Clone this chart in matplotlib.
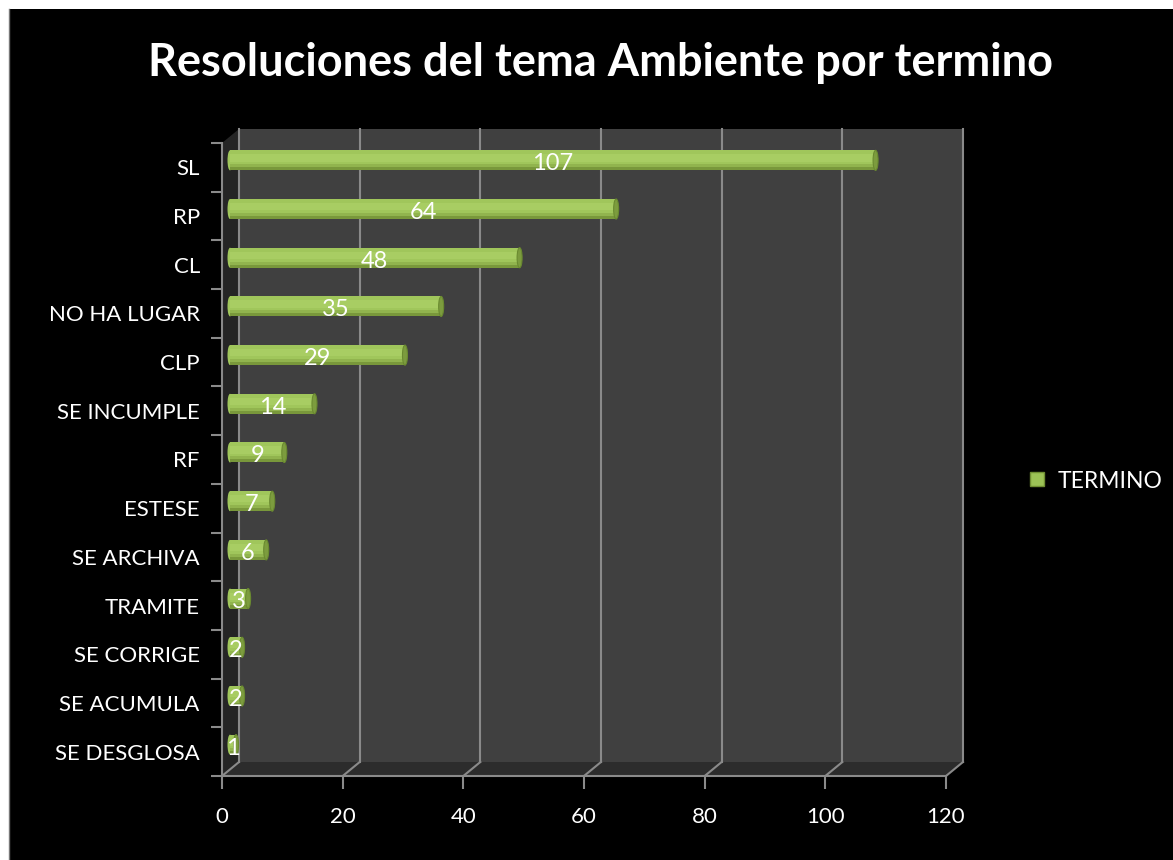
import matplotlib
matplotlib.use("Agg")
import matplotlib.pyplot as plt
from matplotlib.patches import Rectangle, Polygon, Ellipse
from matplotlib.lines import Line2D

plt.rcParams['font.family'] = ['Lato', 'DejaVu Sans']

# data (bottom to top)
categorias = ['SE DESGLOSA', 'SE ACUMULA', 'SE CORRIGE', 'TRAMITE', 'SE ARCHIVA',
              'ESTESE', 'RF', 'SE INCUMPLE', 'CLP', 'NO HA LUGAR', 'CL', 'RP', 'SL']
valores = [1, 2, 2, 3, 6, 7, 9, 14, 29, 35, 48, 64, 107]
xticks = [0, 20, 40, 60, 80, 100, 120]
serie = 'TERMINO'
titulo = 'Resoluciones del tema Ambiente por termino'

W, H = 1173, 860
fig = plt.figure(figsize=(W / 100, H / 100), dpi=100, facecolor='white')
# black slide background with thin white border at top/left
fig.patches.append(Rectangle((9 / W, 0), 1, 1 - 9 / H, transform=fig.transFigure,
                             facecolor='black', edgecolor='none', zorder=-10))
fig.lines.append(Line2D([9 / W, 9 / W], [0, 1 - 9 / H], transform=fig.transFigure,
                        color='#777777', lw=1))

x0, x1, ytop, ybot = 222, 946, 143, 776
ax = fig.add_axes([x0 / W, (H - ybot) / H, (x1 - x0) / W, (ybot - ytop) / H])
ax.set_facecolor('none')
n = len(categorias)
ax.set_xlim(0, 120)
ax.set_ylim(0, n)

# depth of the pseudo 3d box, in data units
pxx = (x1 - x0) / 120.0
pxy = (ybot - ytop) / float(n)
DX, DY = 17 / pxx, 14 / pxy
BDX, BDY = 8 / pxx, 7 / pxy

grid = '#8a8a8a'
ax.add_patch(Rectangle((DX, DY), 120, n, facecolor='#404040', edgecolor='none',
                       zorder=0, clip_on=False))
ax.add_patch(Polygon([(0, 0), (0, n), (DX, n + DY), (DX, DY)], closed=True,
                     facecolor='#252525', edgecolor='none', zorder=0.5, clip_on=False))
ax.add_patch(Polygon([(0, 0), (120, 0), (120 + DX, DY), (DX, DY)], closed=True,
                     facecolor='#2c2c2c', edgecolor='none', zorder=0.5, clip_on=False))
for v in xticks:
    ax.plot([v + DX, v + DX], [DY, n + DY], color=grid, lw=1.5, zorder=1, clip_on=False)
    ax.plot([v, v + DX], [0, DY], color=grid, lw=1.5, zorder=1, clip_on=False)

# cylinder bars
ys = [i + 0.5 + BDY for i in range(n)]
bh = 20 / pxy
main = '#a0c65b'
ax.barh(ys, valores, left=BDX, height=bh, color=main, zorder=3)
ax.barh([y + bh * 0.12 for y in ys], valores, left=BDX, height=bh * 0.36,
        color='#a8cd63', zorder=3.1)
ax.barh([y - bh * 0.27 for y in ys], valores, left=BDX, height=bh * 0.16,
        color='#91b44e', zorder=3.1)
ax.barh([y - bh * 0.42 for y in ys], valores, left=BDX, height=bh * 0.16,
        color='#79983b', zorder=3.1)
for y, v in zip(ys, valores):
    ax.add_patch(Ellipse((BDX, y), 5 / pxx, bh, facecolor=main,
                         edgecolor='none', zorder=2.9))
    ax.add_patch(Ellipse((BDX + v, y), 5 / pxx, bh, facecolor='#7c9c3e',
                         edgecolor='#6a8a30', lw=0.8, zorder=3.2))
    ax.text(BDX + v / 2.0, y - 0.07, str(v), color='white', fontsize=17,
            ha='center', va='center', zorder=4)

# axes
for s in ['top', 'right']:
    ax.spines[s].set_visible(False)
for s in ['left', 'bottom']:
    ax.spines[s].set_color(grid)
    ax.spines[s].set_linewidth(1.5)
    ax.spines[s].set_zorder(2)
ax.set_xticks(xticks)
ax.set_xticklabels([str(v) for v in xticks])
ax.tick_params(axis='x', colors=grid, labelcolor='white', labelsize=16,
               length=9, width=1.5, pad=13)
ax.set_yticks([i + 0.5 for i in range(n)])
ax.set_yticklabels(categorias)
ax.tick_params(axis='y', which='major', length=0, labelcolor='white',
               labelsize=16, pad=16)
ax.set_yticks(range(n + 1), minor=True)
ax.tick_params(axis='y', which='minor', length=8, width=1.5, colors=grid)

fig.text(600 / W, 1 - 63 / H, titulo, color='white', fontsize=32.5,
         fontweight='bold', ha='center', va='center')

handle = Line2D([], [], marker='s', linestyle='', markersize=10,
                markerfacecolor='#9cc256', markeredgecolor='#6f8e32')
fig.legend([handle], [serie], loc='center left',
           bbox_to_anchor=(1005 / W, 1 - 481 / H), frameon=False,
           labelcolor='white', fontsize=16.5, handletextpad=0.4,
           handlelength=1.0)

fig.savefig('out.png', dpi=100, facecolor=fig.get_facecolor())
